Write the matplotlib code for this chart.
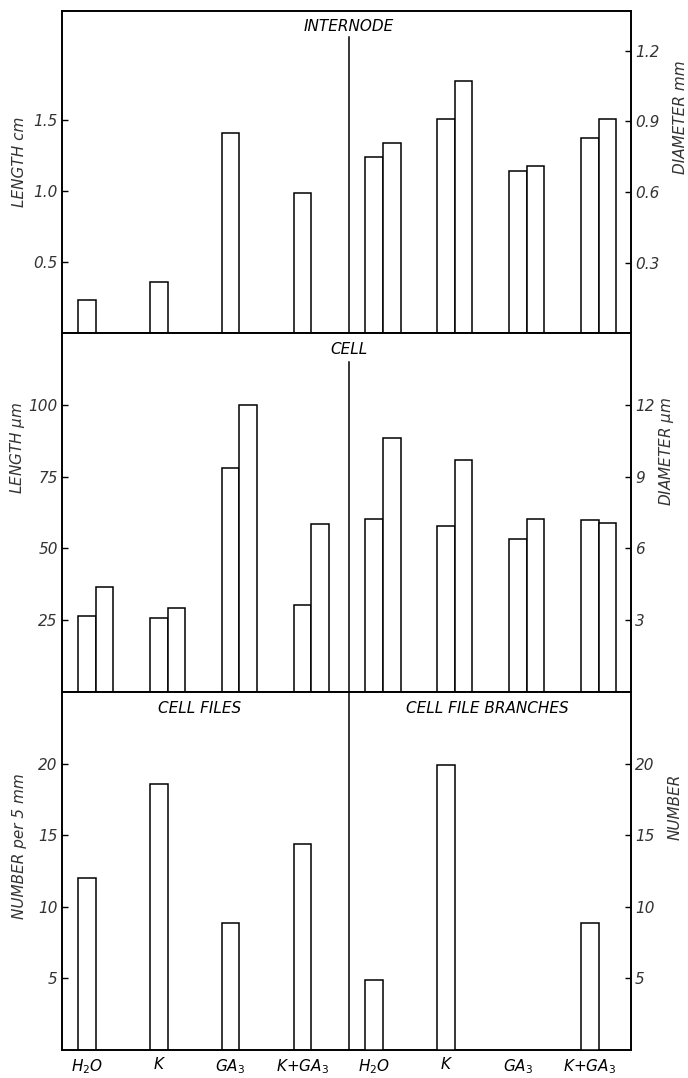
import matplotlib
matplotlib.use('Agg')
import matplotlib.pyplot as plt

plt.rcParams['font.family'] = ['DejaVu Sans']
plt.rcParams['mathtext.fontset'] = 'dejavusans'
plt.rcParams['mathtext.default'] = 'it'

# treatments (same 4 on each half)
cats = ['H$_2$O', 'K', 'GA$_3$', 'K+GA$_3$']

# internode
internode_length = [0.23, 0.36, 1.41, 0.99]
internode_diam_a = [0.75, 0.91, 0.69, 0.83]
internode_diam_b = [0.81, 1.07, 0.71, 0.91]

# cell
cell_length_a = [26.6, 25.9, 78.0, 30.4]
cell_length_b = [36.7, 29.4, 100.0, 58.7]
cell_diam_a = [7.25, 6.95, 6.4, 7.2]
cell_diam_b = [10.6, 9.7, 7.25, 7.05]

# cell files / branches
cell_files = [12.0, 18.6, 8.9, 14.4]
file_branches = [4.9, 19.9, 0.0, 8.9]

w = 0.245
left_x = [0, 1, 2, 3]
right_x = [4, 5, 6, 7]
divider = 3.52
txt_col = '#333333'

fig = plt.figure(figsize=(6.88, 10.78), dpi=100)


def draw_bars(ax, xs, vals, shift):
    for x, v in zip(xs, vals):
        if v > 0:
            ax.bar(x + shift, v, width=w, facecolor='white', edgecolor='black', linewidth=1.1, zorder=3)


def setup(rect, ylim_l, yticks_l, ylab_l, ylim_r, yticks_r, ylab_r, lab_pos):
    ax = fig.add_axes(rect)
    ax2 = ax.twinx()
    ax.set_xlim(-0.47, 7.45)
    ax.set_ylim(*ylim_l)
    ax2.set_ylim(*ylim_r)
    ax.set_yticks(yticks_l)
    ax2.set_yticks(yticks_r)
    for a in (ax, ax2):
        a.tick_params(axis='y', direction='in', length=4, width=1, labelsize=11, colors='black',
                      labelcolor=txt_col, pad=3)
        for lab in a.get_yticklabels():
            lab.set_fontstyle('italic')
        for s in a.spines.values():
            s.set_linewidth(1.2)
    ax.set_ylabel(ylab_l, fontsize=11, fontstyle='italic', color=txt_col)
    ax2.set_ylabel(ylab_r, fontsize=11, fontstyle='italic', color=txt_col)
    (lx, ly), (rx, ry) = lab_pos
    ax.yaxis.set_label_coords(lx, ly)
    ax2.yaxis.set_label_coords(rx, ry)
    ax.set_xticks([])
    return ax, ax2


# top panel: internode
ax, ax2 = setup([0.090, 0.691, 0.827, 0.299], (0, 2.27), [0.5, 1.0, 1.5], 'LENGTH cm',
                (0, 1.37), [0.3, 0.6, 0.9, 1.2], 'DIAMETER mm', ((-0.062, 0.53), (1.074, 0.67)))
draw_bars(ax, left_x, internode_length, -w / 2)
draw_bars(ax2, right_x, internode_diam_a, -w / 2)
draw_bars(ax2, right_x, internode_diam_b, w / 2)
ax.axvline(divider, ymin=0, ymax=0.92, color='black', linewidth=1.1)
ax.text(divider, 0.95, 'INTERNODE', transform=ax.get_xaxis_transform(), ha='center', va='center',
        fontsize=11, fontstyle='italic', color='black')

# middle panel: cell
ax, ax2 = setup([0.090, 0.358, 0.827, 0.333], (0, 125), [25, 50, 75, 100], 'LENGTH $\\mu$m',
                (0, 15), [3, 6, 9, 12], 'DIAMETER $\\mu$m', ((-0.062, 0.68), (1.046, 0.67)))
draw_bars(ax, left_x, cell_length_a, -w / 2)
draw_bars(ax, left_x, cell_length_b, w / 2)
draw_bars(ax2, right_x, cell_diam_a, -w / 2)
draw_bars(ax2, right_x, cell_diam_b, w / 2)
ax.axvline(divider, ymin=0, ymax=0.92, color='black', linewidth=1.1)
ax.text(divider, 0.953, 'CELL', transform=ax.get_xaxis_transform(), ha='center', va='center',
        fontsize=11, fontstyle='italic', color='black')

# bottom panel: cell files
ax, ax2 = setup([0.090, 0.026, 0.827, 0.332], (0, 25), [5, 10, 15, 20], 'NUMBER per 5 mm',
                (0, 25), [5, 10, 15, 20], 'NUMBER', ((-0.062, 0.57), (1.065, 0.68)))
draw_bars(ax, left_x, cell_files, -w / 2)
draw_bars(ax2, right_x, file_branches, -w / 2)
ax.axvline(divider, color='black', linewidth=1.1)
ax.text(1.45, 0.955, 'CELL FILES', transform=ax.get_xaxis_transform(), ha='center', va='center',
        fontsize=11, fontstyle='italic', color='black')
ax.text(5.45, 0.955, 'CELL FILE BRANCHES', transform=ax.get_xaxis_transform(), ha='center', va='center',
        fontsize=11, fontstyle='italic', color='black')
ax.set_xticks([x - w / 2 for x in left_x + right_x])
ax.set_xticklabels(cats + cats, fontsize=11, fontstyle='italic', color='black')
ax.tick_params(axis='x', length=0, pad=5)

fig.savefig('out.png', dpi=100)
